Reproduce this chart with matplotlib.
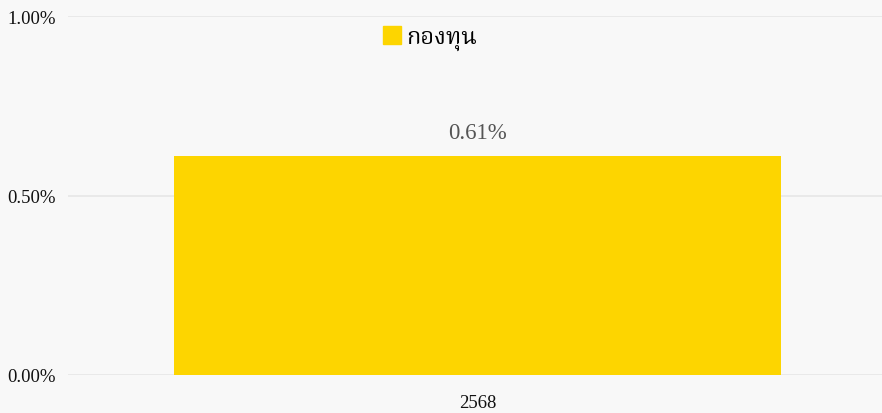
import matplotlib
matplotlib.use("Agg")
import matplotlib.pyplot as plt
from matplotlib.ticker import PercentFormatter
from matplotlib.patches import Patch

categories = ["2568"]
values = [0.61]
series_name = "กองทุน"

bg = "#f8f8f8"
bar_color = "#fdd500"
fonts = ["Liberation Serif", "Noto Serif Thai", "Noto Sans Thai", "Noto Sans", "DejaVu Sans"]
plt.rcParams["font.family"] = fonts

fig = plt.figure(figsize=(8.82, 4.14), dpi=100, facecolor=bg)
ax = fig.add_axes([68 / 882, 1 - 376 / 414, 814 / 882, 359 / 414], facecolor=bg)

bars = ax.bar(categories, values, width=0.745, color=bar_color, zorder=2)
for b, v in zip(bars, values):
    ax.text(b.get_x() + b.get_width() / 2, v + 0.035, f"{v:.2f}%",
            ha="center", va="bottom", fontsize=16.5, color="#555555")

ax.set_xlim(-0.503, 0.497)
ax.set_ylim(0, 1.0)
ax.set_yticks([0, 0.5, 1.0])
ax.yaxis.set_major_formatter(PercentFormatter(decimals=2))
ax.grid(axis="y", color="#e6e6e6", linewidth=1.2, zorder=0)
ax.tick_params(axis="y", length=0, labelsize=13.5, colors="#111111", pad=9)
ax.tick_params(axis="x", length=0, labelsize=13.5, colors="#111111", pad=14)
for s in ax.spines.values():
    s.set_visible(False)

ax.legend(handles=[Patch(color=bar_color)], labels=[series_name],
          loc="upper center", bbox_to_anchor=(0.5 - 45 / 814, 1.03),
          frameon=False, fontsize=17, handlelength=0.75, handleheight=0.75,
          handletextpad=0.2)

fig.savefig("out.png", dpi=100, facecolor=bg)
